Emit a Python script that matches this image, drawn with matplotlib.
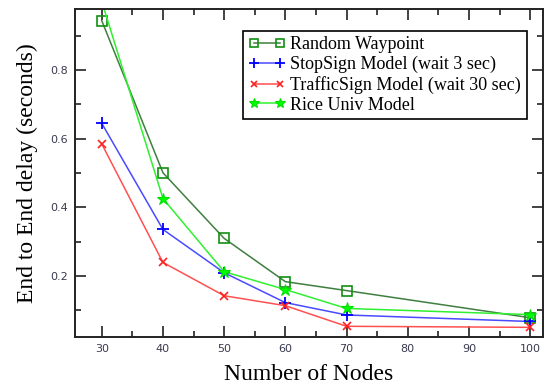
import matplotlib
matplotlib.use("Agg")
import matplotlib.pyplot as plt
from matplotlib.ticker import MultipleLocator

# numero de nodos
nodes = [30, 40, 50, 60, 70, 100]

# retardo extremo a extremo (segundos) por modelo de movilidad
random_waypoint = [0.944, 0.501, 0.310, 0.184, 0.158, 0.079]
stopsign = [0.645, 0.336, 0.210, 0.123, 0.087, 0.068]
trafficsign = [0.585, 0.240, 0.143, 0.114, 0.054, 0.051]
rice_univ = [1.0, 0.426, 0.213, 0.161, 0.106, 0.088]

labels = ["Random Waypoint", "StopSign Model (wait 3 sec)",
          "TrafficSign Model (wait 30 sec)", "Rice Univ Model"]

fig = plt.figure(figsize=(5.46, 3.87), dpi=100)
ax = fig.add_axes([0.137, 0.128, 0.8575, 0.849])

ax.plot(nodes, random_waypoint, color="#3f7f3f", lw=1.1, marker="s", ms=7,
        mfc="none", mec="#109010", mew=1.2, label=labels[0])
ax.plot(nodes, stopsign, color="#4a4aff", lw=1.1, marker="+", ms=9,
        mec="#0000ff", mew=1.3, label=labels[1])
ax.plot(nodes, trafficsign, color="#ff5050", lw=1.1, marker="x", ms=6,
        mec="#ff2020", mew=1.2, label=labels[2])
ax.plot(nodes, rice_univ, color="#30f030", lw=1.1, marker="*", ms=9,
        mfc="#00ff00", mec="#00e000", mew=0.8, label=labels[3])

ax.set_xlim(25.6, 102.1)
ax.set_ylim(0.0215, 0.978)
ax.set_xticks(nodes + [80, 90])
ax.xaxis.set_minor_locator(MultipleLocator(5))
ax.yaxis.set_minor_locator(MultipleLocator(0.1))
ax.set_yticks([0.2, 0.4, 0.6, 0.8])

ax.tick_params(which="both", direction="in", top=True, right=True,
               color="#222222", width=1.2, labelsize=8,
               labelcolor="#3a3a50")
ax.tick_params(which="major", length=8, pad=5)
ax.tick_params(which="minor", length=4.5)
for s in ax.spines.values():
    s.set_linewidth(1.4)
    s.set_color("#222222")

ax.set_xlabel("Number of Nodes", family="Liberation Serif", fontsize=17,
              labelpad=7)
ax.set_ylabel("End to End delay (seconds)", family="Liberation Serif",
              fontsize=17, labelpad=9)

leg = ax.legend(loc="upper right", bbox_to_anchor=(0.965, 0.933),
                prop={"family": "Liberation Serif", "size": 13},
                numpoints=2, markerscale=0.8, handlelength=2.0,
                handletextpad=0.3, labelspacing=0.15, borderpad=0.3,
                borderaxespad=0, fancybox=False, framealpha=1,
                edgecolor="black")
leg.get_frame().set_linewidth(1.2)

fig.savefig("out.png", dpi=100)
